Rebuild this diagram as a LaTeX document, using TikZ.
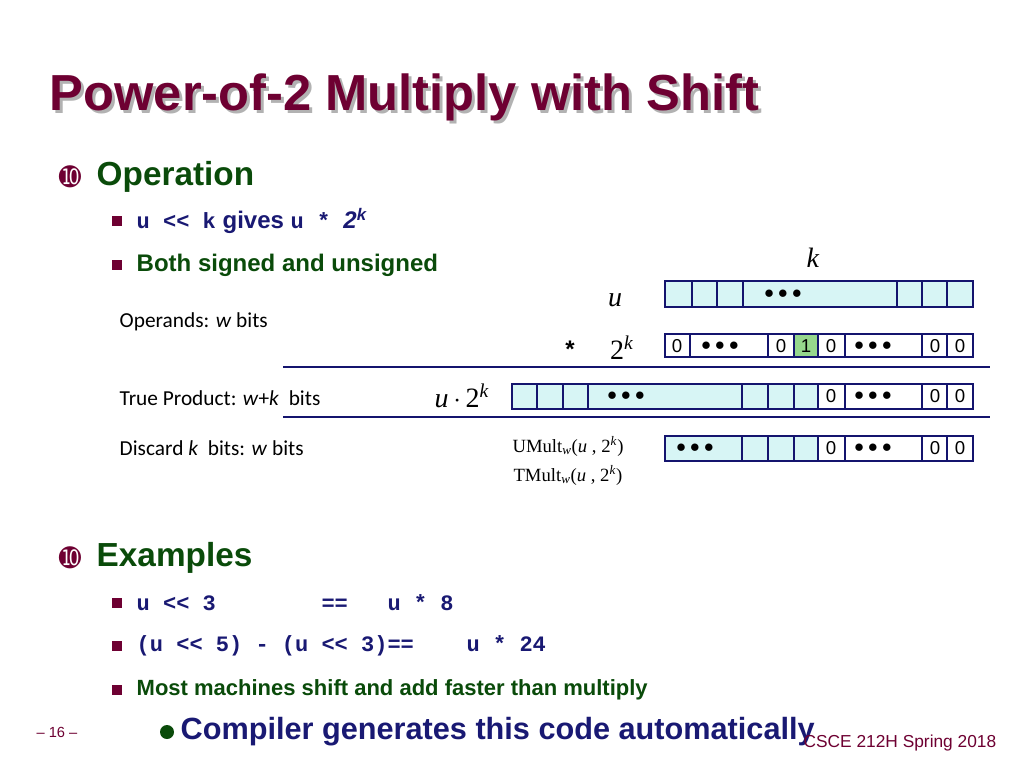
\documentclass[tikz,border=0pt]{standalone}
\usepackage{fontspec}
\setmainfont{Liberation Sans}
\newfontfamily\codefont{Liberation Mono}
\newfontfamily\serfont{Liberation Serif}
\newfontfamily\bodyfont{Carlito}
\newfontfamily\symfont{DejaVu Sans}
\usetikzlibrary{positioning}
\definecolor{titlered}{RGB}{110, 0, 50}
\definecolor{headgreen}{RGB}{10, 75, 10}
\definecolor{codeblue}{RGB}{25, 25, 115}
\definecolor{cellfill}{RGB}{215, 245, 245}
\definecolor{onefill}{RGB}{150, 215, 140}
\definecolor{celledge}{RGB}{20, 20, 110}
\tikzset{
  head/.style={anchor=west, font=\fontsize{25}{28}\selectfont\bfseries, text=headgreen},
  item/.style={anchor=west, font=\fontsize{16.5}{19}\selectfont\bfseries, text=headgreen},
  code/.style={anchor=west, font=\fontsize{16.5}{19}\selectfont\codefont\bfseries, text=codeblue},
  side/.style={anchor=west, font=\fontsize{16}{19}\selectfont\bodyfont},
  sym/.style={font=\fontsize{21}{24}\selectfont\serfont},
  bit/.style={font=\fontsize{14}{16}\selectfont},
  bitcells/.style={draw=celledge, line width=1.8pt},
  rule/.style={draw=celledge, line width=1.5pt},
}
\newcommand{\sqbul}[1]{\fill[titlered] (#1) ++(-5,-5) rectangle ++(10,10);}
\begin{document}
\begin{tikzpicture}[x=0.75pt, y=-0.75pt]
  \useasboundingbox (0,0) rectangle (1024,768);
  \fill[white] (0,0) rectangle (1024,768);

  % title with shadow
  \node[anchor=west, text=gray!60, font=\fontsize{38}{42}\selectfont\bfseries] at (48,100) {Power-of-2 Multiply with Shift};
  \node (title) [anchor=west, text=titlered, font=\fontsize{38}{42}\selectfont\bfseries] at (45,97) {Power-of-2 Multiply with Shift};

  % operation
  \node (opmark) [text=titlered, font=\fontsize{20}{22}\selectfont\symfont] at (70,177) {➓};
  \node (ophead) [head] at (92,177) {Operation};
  \sqbul{117,221}
  \node (shift) [anchor=west, text=codeblue] at (132,221)
    {{\fontsize{16.5}{19}\selectfont\codefont\bfseries u << k}{\fontsize{18}{20}\selectfont\bfseries\ gives }{\fontsize{16.5}{19}\selectfont\codefont\bfseries u * }{\fontsize{18}{20}\selectfont\bfseries\itshape 2\textsuperscript{k}}};
  \sqbul{117,265}
  \node (both) [item, font=\fontsize{18}{20}\selectfont\bfseries] at (132,265) {Both signed and unsigned};

  % side labels
  \node (opnd) [side] at (115,322) {Operands: \textit{w} bits};
  \node (prod) [side] at (115,398) {True Product: \textit{w}+\textit{k}\ \ bits};
  \node (disc) [side] at (115,448) {Discard \textit{k}\ \ bits: \textit{w} bits};

  % row u
  \filldraw[bitcells, fill=cellfill] (665,281) rectangle (973,307);
  \foreach \x in {692,717,743,897,922,947}
    \draw[bitcells] (\x,281) -- (\x,307);
  \node (udots) [bit] at (783,294) {$\bullet\bullet\bullet$};
  \node (klab) [sym] at (813,258) {\textit{k}};
  \node (ulab) [sym] at (615,300) {\textit{u}};

  % row 2^k
  \filldraw[bitcells, fill=white] (665,334) rectangle (973,357);
  \fill[onefill] (794,334) rectangle (818,357);
  \draw[bitcells] (665,334) rectangle (973,357);
  \foreach \x in {690,768,794,818,845,922,947}
    \draw[bitcells] (\x,334) -- (\x,357);
  \foreach \x/\t in {677/0,781/0,806/1,831/0,935/0,960/0}
    \node[bit] at (\x,346) {\t};
  \foreach \x in {720,873}
    \node[bit] at (\x,346) {$\bullet\bullet\bullet$};
  \node (times) [font=\fontsize{18}{20}\selectfont\bfseries] at (570,349) {*};
  \node (twok) [sym] at (622,348) {2\textsuperscript{\textit{k}}};
  \draw[rule] (283,367) -- (990,367);

  % true product row
  \filldraw[bitcells, fill=cellfill] (512,384) rectangle (973,409);
  \fill[white] (818,384) rectangle (973,409);
  \draw[bitcells] (512,384) rectangle (973,409);
  \foreach \x in {537,563,588,742,768,794,818,845,922,947}
    \draw[bitcells] (\x,384) -- (\x,409);
  \node (pdots) [bit] at (626,396) {$\bullet\bullet\bullet$};
  \foreach \x in {831,935,960}
    \node[bit] at (\x,396) {0};
  \node[bit] at (873,396) {$\bullet\bullet\bullet$};
  \node (prodlab) [sym] at (462,396) {\textit{u}\,$\cdot$\,2\textsuperscript{\textit{k}}};
  \draw[rule] (283,417) -- (990,417);

  % discarded row
  \filldraw[bitcells, fill=cellfill] (665,436) rectangle (973,461);
  \fill[white] (818,436) rectangle (973,461);
  \draw[bitcells] (665,436) rectangle (973,461);
  \foreach \x in {742,768,794,818,845,922,947}
    \draw[bitcells] (\x,436) -- (\x,461);
  \node (rdots) [bit] at (695,448) {$\bullet\bullet\bullet$};
  \foreach \x in {831,935,960}
    \node[bit] at (\x,448) {0};
  \node[bit] at (873,448) {$\bullet\bullet\bullet$};
  \node (umult) [font=\fontsize{14}{16}\selectfont\serfont] at (568,446) {UMult\textsubscript{\textit{w}}(\textit{u} , 2\textsuperscript{\textit{k}})};
  \node (tmult) [font=\fontsize{14}{16}\selectfont\serfont] at (568,475) {TMult\textsubscript{\textit{w}}(\textit{u} , 2\textsuperscript{\textit{k}})};

  % examples
  \node (exmark) [text=titlered, font=\fontsize{20}{22}\selectfont\symfont] at (70,558) {➓};
  \node (exhead) [head] at (92,558) {Examples};
  \sqbul{117,603}
  \node (ex1) [code] at (132,603) {u << 3\ \ \ \ \ \ \ \ ==\ \ \ u * 8};
  \sqbul{117,646}
  \node (ex2) [code] at (132,646) {(u << 5) - (u << 3)==\ \ \ \ u * 24};
  \sqbul{117,690}
  \node (fast) [item] at (132,690) {Most machines shift and add faster than multiply};
  \fill[headgreen] (167,732) circle (7);
  \node (comp) [anchor=west, text=codeblue, font=\fontsize{23}{26}\selectfont\bfseries] at (176,732) {Compiler generates this code automatically};

  % footer
  \node (page) [text=titlered, font=\fontsize{11}{13}\selectfont] at (57,732) {– 16 –};
  \node (course) [anchor=east, text=titlered, font=\fontsize{13}{15}\selectfont] at (1001,743) {CSCE 212H Spring 2018};
\end{tikzpicture}
\end{document}
